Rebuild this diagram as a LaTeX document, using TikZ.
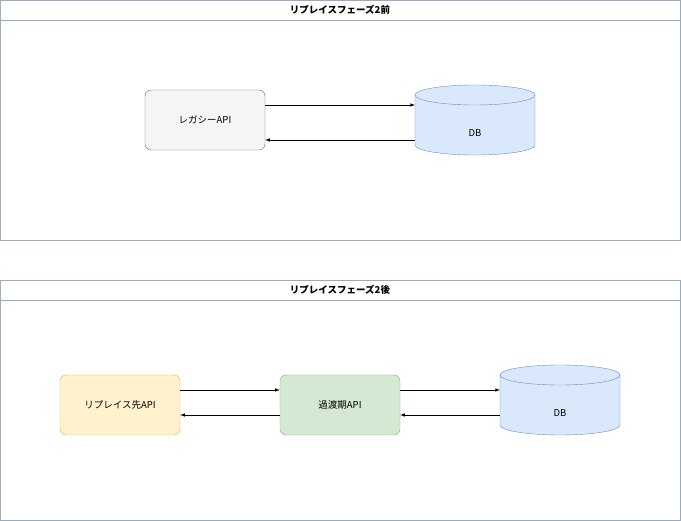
\documentclass[tikz,border=0pt]{standalone}
\usepackage{fontspec}
\setmainfont{Noto Sans CJK JP}
\begin{document}
\begin{tikzpicture}[x=1pt,y=-1pt,
  box/.style={draw,rounded corners=6pt,minimum width=120pt,minimum height=60pt,font=\fontsize{9.5}{11}\selectfont},
  arr/.style={-latex,line width=0.6pt},
  ttl/.style={font=\bfseries\fontsize{9.5}{11}\selectfont}]
\useasboundingbox (0,0) rectangle (681,521);
\definecolor{cb}{HTML}{9AABBB}
\definecolor{dbf}{HTML}{DAE8FC}\definecolor{dbs}{HTML}{6C8EBF}
% containers
\draw[cb] (0.5,0.5) rectangle (680.5,240); \draw[cb] (0.5,20)--(680.5,20);
\node[ttl] (t1) at (340,10) {リプレイスフェーズ2前};
\draw[cb] (0.5,280.5) rectangle (680.5,520.5); \draw[cb] (0.5,300)--(680.5,300);
\node[ttl] (t2) at (340,290) {リプレイスフェーズ2後};
% top
\node[box,fill={rgb,255:red,245;green,245;blue,245},draw={rgb,255:red,102;green,102;blue,102}] (leg) at (205,120) {レガシーAPI};
\def\cyl#1#2#3{%
 \fill[dbf] (#1-60,#2) -- (#1-60,#3) arc[start angle=180,end angle=0,x radius=60,y radius=10] -- (#1+60,#2) -- cycle;
 \draw[dbs] (#1-60,#2) -- (#1-60,#3) arc[start angle=180,end angle=0,x radius=60,y radius=10] -- (#1+60,#2);
 \draw[dbs,fill=dbf] (#1,#2) ellipse[x radius=60,y radius=10];}
\cyl{475}{95}{145}
\node[font=\fontsize{9.5}{11}\selectfont] (db1) at (475,133) {DB};
\coordinate (d1a) at (415,105); \coordinate (d1b) at (415,140);
\draw[arr] (leg.east|-d1a) -- (d1a);
\draw[arr] (d1b) -- (leg.east|-d1b);
% bottom
\node[box,fill={rgb,255:red,255;green,242;blue,204},draw={rgb,255:red,214;green,182;blue,86}] (rep) at (120,405) {リプレイス先API};
\node[box,fill={rgb,255:red,213;green,232;blue,212},draw={rgb,255:red,130;green,179;blue,102}] (tra) at (340,405) {過渡期API};
\cyl{560}{375}{425}
\node[font=\fontsize{9.5}{11}\selectfont] (db2) at (560,413) {DB};
\coordinate (d2a) at (500,390); \coordinate (d2b) at (500,415);
\draw[arr] (rep.east|-d2a) -- (tra.west|-d2a);
\draw[arr] (tra.west|-d2b) -- (rep.east|-d2b);
\draw[arr] (tra.east|-d2a) -- (d2a);
\draw[arr] (d2b) -- (tra.east|-d2b);
\end{tikzpicture}
\end{document}
